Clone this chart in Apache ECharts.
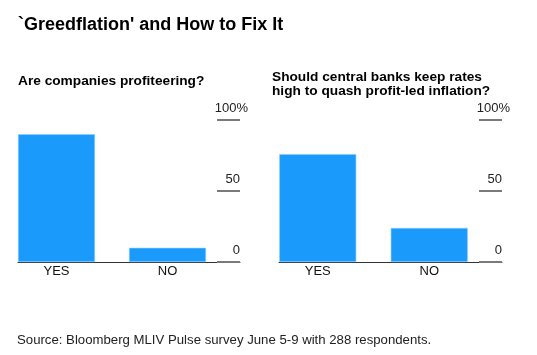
<!DOCTYPE html>
<html>
<head>
<meta charset="utf-8">
<script src="https://cdn.jsdelivr.net/npm/echarts@6/dist/echarts.min.js"></script>
<style>html,body{margin:0;padding:0;background:#fff}#c{width:537px;height:355px}</style>
</head>
<body>
<div id="c"></div>
<script>
const categories = ['YES', 'NO'];
const profiteering = [90, 10];
const keepRatesHigh = [76, 24];
const yTicks = [0, 50, 100];

const FONT = 'Liberation Sans, Arial, sans-serif';
const BLUE = '#1a9bfc';

function yAxisFor(gi) {
  return {
    type: 'value', gridIndex: gi, position: 'right', min: 0, max: 100, interval: 50,
    axisLine: {show: false},
    axisTick: {show: true, inside: true, length: 23, lineStyle: {color: '#7a7a7a', width: 2}},
    splitLine: {show: false},
    axisLabel: {
      inside: true, margin: -8, verticalAlign: 'bottom',
      color: '#222', fontFamily: FONT, fontSize: 13,
      formatter: v => v === 100 ? '{p|100%}' : '{n|' + v + '}',
      rich: {
        n: {fontFamily: FONT, fontSize: 13, color: '#222', padding: [0, 8, 5, 0]},
        p: {fontFamily: FONT, fontSize: 13, color: '#222', padding: [0, 0, 5, 0]}
      }
    }
  };
}
function xAxisFor(gi) {
  return {
    type: 'category', gridIndex: gi, data: categories,
    axisLine: {show: true, lineStyle: {color: '#333', width: 1}},
    axisTick: {show: false}, axisLabel: {show: false}
  };
}
function barSeries(gi, data) {
  return [{
    type: 'bar', xAxisIndex: gi, yAxisIndex: gi, data: data, barWidth: 77, barGap: '0%',
    itemStyle: {color: BLUE, borderColor: '#8fcbff', borderWidth: 0.6},
    label: {show: true, position: 'bottom', distance: 3, formatter: '{b}', color: '#111', fontFamily: FONT, fontSize: 13},
    silent: true
  }, {
    type: 'bar', xAxisIndex: gi, yAxisIndex: gi, data: [null, null], barWidth: 34, barGap: '0%', silent: true
  }];
}

const chart = echarts.init(document.getElementById('c'), null, {renderer: 'canvas'});
chart.setOption({
  animation: false,
  backgroundColor: '#fff',
  title: [
    {text: "`Greedflation' and How to Fix It", left: 18, top: 16, padding: 0,
     textStyle: {fontFamily: FONT, fontWeight: 'bold', fontSize: 18, color: '#000'}},
    {text: 'Are companies profiteering?', left: 18, top: 74, padding: 0,
     textStyle: {fontFamily: FONT, fontWeight: 'bold', fontSize: 13.7, color: '#000'}},
    {text: 'Should central banks keep rates\nhigh to quash profit-led inflation?', left: 272, top: 70, padding: 0,
     textStyle: {fontFamily: FONT, fontWeight: 'bold', fontSize: 13.7, lineHeight: 14, color: '#000'}},
    {text: 'Source: Bloomberg MLIV Pulse survey June 5-9 with 288 respondents.', left: 17, top: 334, padding: 0,
     textStyle: {fontFamily: FONT, fontWeight: 'normal', fontSize: 13.2, color: '#222'}}
  ],
  grid: [
    {left: 18, top: 120, width: 222, height: 142},
    {left: 279, top: 120, width: 223, height: 142}
  ],
  xAxis: [xAxisFor(0), xAxisFor(1)],
  yAxis: [yAxisFor(0), yAxisFor(1)],
  series: [...barSeries(0, profiteering), ...barSeries(1, keepRatesHigh)]
});
</script>
</body>
</html>
